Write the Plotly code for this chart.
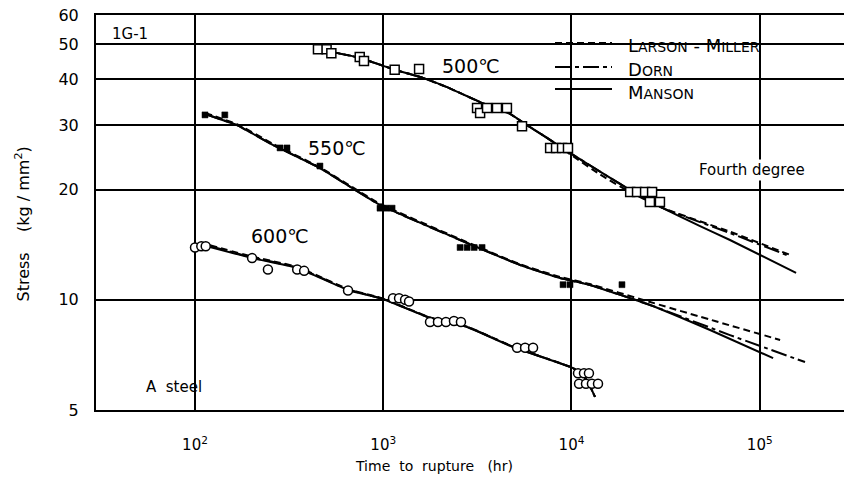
import plotly.graph_objects as go

# ---------------- observed rupture data ----------------
t500_obs = [450, 500, 530, 750, 790, 1150, 1550, 3150, 3270, 3560, 4020, 4540,
            5460, 7700, 8280, 8910, 9580, 20500, 22300, 24600, 26800, 26100, 29500]
s500_obs = [48.4, 48.4, 47.2, 46.1, 44.9, 42.5, 42.7, 33.4, 32.4, 33.4, 33.4, 33.4,
            29.8, 26.0, 26.0, 26.0, 26.0, 19.7, 19.7, 19.7, 19.7, 18.5, 18.5]

t550_obs = [113, 144, 283, 308, 461, 961, 1035, 1114, 2560, 2790, 3040, 3350,
            9020, 9820, 18540]
s550_obs = [32.0, 32.0, 26.0, 26.0, 23.2, 17.8, 17.8, 17.8, 13.9, 13.9, 13.9, 13.9,
            11.0, 11.0, 11.0]

t600_obs = [100, 108, 114, 201, 244, 349, 380, 650, 1127, 1213, 1306, 1371,
            1772, 1953, 2154, 2375, 2587, 5140, 5670, 6250,
            10830, 11650, 12380, 10970, 11940, 12840, 13830]
s600_obs = [13.9, 14.0, 14.0, 13.0, 12.1, 12.1, 12.0, 10.6, 10.1, 10.1, 10.0, 9.9,
            8.7, 8.7, 8.7, 8.75, 8.7, 7.4, 7.4, 7.4,
            6.3, 6.3, 6.3, 5.9, 5.9, 5.9, 5.9]

# ---------------- fitted master curves ----------------
# 500 C
t500_lm = [541, 752, 1155, 1626, 2182, 3266, 4713, 5803, 7413, 9822, 14180, 19730, 30630, 69500, 143200]
s500_lm = [47.5, 45.8, 42.5, 40.4, 38.1, 34.7, 32.2, 30.0, 27.7, 25.0, 22.0, 19.9, 17.8, 15.35, 13.3]
t500_dorn = [541, 752, 1155, 1626, 2182, 3266, 4713, 5803, 7413, 9822, 14180, 19730, 30630, 69500, 143200]
s500_dorn = [47.5, 45.8, 42.5, 40.4, 38.1, 34.7, 32.2, 30.0, 27.7, 25.2, 22.4, 20.2, 17.8, 15.22, 13.18]
t500_man = [541, 752, 1155, 1626, 2182, 3266, 4713, 5803, 7413, 9822, 14180, 19730, 30630, 48200, 69500, 156000]
s500_man = [47.5, 45.8, 42.5, 40.4, 38.1, 34.7, 32.2, 30.0, 27.7, 25.2, 22.4, 20.2, 17.8, 15.9, 14.57, 11.84]

# 550 C
t550_lm = [113, 167, 259, 461, 961, 2559, 5335, 8690, 12530, 25180, 57810, 128300]
s550_lm = [32.4, 30.2, 26.7, 23.0, 18.3, 14.65, 12.5, 11.55, 11.04, 9.92, 8.75, 7.77]
t550_dorn = [113, 167, 259, 461, 961, 2559, 5335, 8690, 12530, 26130, 69500, 174000]
s550_dorn = [32.2, 30.0, 26.5, 22.9, 18.16, 14.57, 12.45, 11.47, 10.98, 9.68, 8.01, 6.76]
t550_man = [113, 167, 259, 461, 961, 2559, 5335, 8690, 12530, 26130, 54450, 117800]
s550_man = [32.2, 30.0, 26.5, 22.9, 18.16, 14.57, 12.45, 11.47, 10.98, 9.68, 8.27, 6.93]

# 600 C
t600_lm = [120, 201, 349, 650, 997, 1772, 2787, 4887, 10190, 11510, 12530, 13330]
s600_lm = [14.1, 13.12, 12.3, 10.7, 10.08, 8.95, 8.45, 7.45, 6.51, 6.23, 5.81, 5.43]
t600_dorn = [120, 201, 349, 650, 997, 1772, 2787, 4887, 10190, 11510, 12530, 13330]
s600_dorn = [14.02, 13.06, 12.25, 10.67, 10.06, 8.93, 8.44, 7.44, 6.51, 6.23, 5.81, 5.43]
t600_man = [120, 201, 349, 650, 997, 1772, 2787, 4887, 10190, 11510, 12530, 13330]
s600_man = [13.94, 13.01, 12.21, 10.64, 10.05, 8.92, 8.43, 7.43, 6.51, 6.23, 5.81, 5.43]

x_tickvals = [1e2, 1e3, 1e4, 1e5]
x_ticktext = ["10<sup>2</sup>", "10<sup>3</sup>", "10<sup>4</sup>", "10<sup>5</sup>"]
y_tickvals = [5, 10, 20, 30, 40, 50, 60]
y_ticktext = ["5", "10", "20", "30", "40", "50", "60"]

# ---------------- figure geometry ----------------
W, H = 844, 486
ML, MR, MT, MB = 96, 0, 15, 76
PW, PH = W - ML - MR, H - MT - MB
FONT = "DejaVu Sans"


def paper(px, py):
    """Pixel position on the page -> paper coordinates."""
    return (px - ML) / PW, (H - MB - py) / PH


SC = "<span style='font-size:14px'>{}</span>"
methods = [
    ("L" + SC.format("ARSON") + "\u00a0-\u00a0M" + SC.format("ILLER"), "7px,4px",
     [(t500_lm, s500_lm), (t550_lm, s550_lm), (t600_lm, s600_lm)]),
    ("D" + SC.format("ORN"), "16px,4px,4px,4px",
     [(t500_dorn, s500_dorn), (t550_dorn, s550_dorn), (t600_dorn, s600_dorn)]),
    ("M" + SC.format("ANSON"), "solid",
     [(t500_man, s500_man), (t550_man, s550_man), (t600_man, s600_man)]),
]

fig = go.Figure()
for name, dash, curves in methods:
    for tx, sy in curves:
        fig.add_trace(go.Scatter(
            x=tx, y=sy, mode="lines", name=name, legendgroup=name, showlegend=False,
            line=dict(color="black", width=2, dash=dash, shape="spline", smoothing=0.4),
        ))

fig.add_trace(go.Scatter(
    x=t500_obs, y=s500_obs, mode="markers", showlegend=False,
    marker=dict(symbol="square", size=9, color="white", line=dict(color="black", width=1.5)),
))
fig.add_trace(go.Scatter(
    x=t550_obs, y=s550_obs, mode="markers", showlegend=False,
    marker=dict(symbol="square", size=6, color="black", line=dict(color="black", width=0.5)),
))
fig.add_trace(go.Scatter(
    x=t600_obs, y=s600_obs, mode="markers", showlegend=False,
    marker=dict(symbol="circle", size=9, color="white", line=dict(color="black", width=1.5)),
))

# white panel behind the key that breaks the grid lines
x0, y0 = paper(547, 113)
x1, y1 = paper(815, 25)
fig.add_shape(type="rect", xref="paper", yref="paper", x0=x0, x1=x1, y0=y0, y1=y1,
              fillcolor="white", line=dict(width=0), layer="between")

# key: line sample + small-caps label for each method
key_rows = [43, 67, 89]
for (name, dash, _), row in zip(methods, key_rows):
    ax0, ay0 = paper(555, row)
    ax1, _ = paper(612, row)
    fig.add_shape(type="line", xref="paper", yref="paper", x0=ax0, x1=ax1, y0=ay0, y1=ay0,
                  line=dict(color="black", width=2, dash=dash))
    tx_, ty_ = paper(626, row + 3)
    fig.add_annotation(text=name, xref="paper", yref="paper", x=tx_, y=ty_,
                       showarrow=False, xanchor="left", yanchor="middle",
                       font=dict(family=FONT, size=18, color="black"))

notes = [
    ("1G-1", 129.5, 34, 15, None),
    ("500℃", 471, 65.5, 19, None),
    ("550℃", 337, 148, 19, None),
    ("600℃", 279.5, 236, 19, None),
    ("Fourth degree", 752, 170, 15, "white"),
    ("A\u00a0\u00a0steel", 173.5, 386.5, 15, None),
    ("Time\u00a0\u00a0to\u00a0\u00a0rupture\u00a0\u00a0\u00a0(hr)", 434, 466, 14, None),
]
for text, px, py, size, bg in notes:
    ax_, ay_ = paper(px, py)
    fig.add_annotation(text=text, xref="paper", yref="paper", x=ax_, y=ay_,
                       showarrow=False, xanchor="center", yanchor="middle",
                       font=dict(family=FONT, size=size, color="black"),
                       bgcolor=bg if bg else "rgba(0,0,0,0)", borderpad=1)

tx_, ty_ = paper(23.5, 224)
fig.add_annotation(text="Stress\u00a0\u00a0\u00a0\u00a0(kg\u00a0/\u00a0mm<sup>2</sup>)", xref="paper", yref="paper",
                   x=tx_, y=ty_, showarrow=False, textangle=-90,
                   xanchor="center", yanchor="middle",
                   font=dict(family=FONT, size=16, color="black"))

fig.update_layout(
    width=W, height=H, autosize=False,
    margin=dict(l=ML, r=MR, t=MT, b=MB, pad=0),
    paper_bgcolor="white", plot_bgcolor="white",
    font=dict(family=FONT, color="black"),
    showlegend=False,
    xaxis=dict(type="log", range=[1.474, 5.4477], tickvals=x_tickvals, ticktext=x_ticktext,
               showgrid=True, gridcolor="black", gridwidth=1.5, zeroline=False,
               showline=True, linecolor="black", linewidth=2, mirror=True, ticks="",
               ticklabelstandoff=20, tickfont=dict(family=FONT, size=15)),
    yaxis=dict(type="log", range=[0.69897, 1.778151], tickvals=y_tickvals, ticktext=y_ticktext,
               showgrid=True, gridcolor="black", gridwidth=1.5, zeroline=False,
               showline=True, linecolor="black", linewidth=2, mirror=False, ticks="",
               ticklabelstandoff=12, tickfont=dict(family=FONT, size=16)),
)

fig.write_html("out.html")
